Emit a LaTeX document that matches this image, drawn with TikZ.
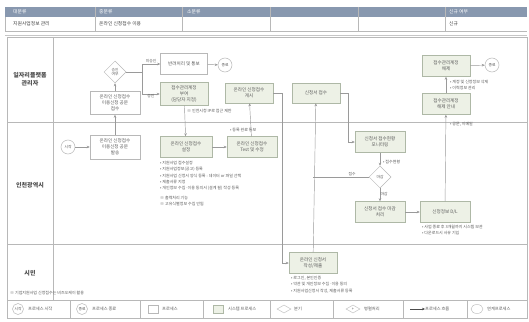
\documentclass[tikz,border=0pt]{standalone}
\usepackage{fontspec}
\setmainfont{Noto Sans CJK KR}
\usetikzlibrary{shapes.geometric,arrows.meta}
\definecolor{hdr}{HTML}{8898AF}
\definecolor{lgray}{HTML}{B8B8B8}
\definecolor{txt}{HTML}{5A5A5A}
\definecolor{gfill}{HTML}{EDF1E6}
\definecolor{gdraw}{HTML}{AEB8A6}
\definecolor{ln}{HTML}{9A9A9A}
\tikzset{
  proc/.style={draw=lgray, fill=white, minimum width=50pt, minimum height=21pt, align=center,
    font=\fontsize{4.6}{6}\selectfont, text=txt, inner sep=1pt, line width=0.5pt},
  sysp/.style={proc, fill=gfill, draw=gdraw},
  dec/.style={diamond, draw=lgray, fill=white, minimum width=22pt, minimum height=22pt, inner sep=0pt,
    align=center, font=\fontsize{3.8}{4.5}\selectfont, text=txt, line width=0.5pt},
  term/.style={circle, draw=lgray, fill=white, minimum size=14pt, inner sep=0pt,
    font=\fontsize{3.8}{4.5}\selectfont, text=txt, line width=0.5pt},
  flow/.style={draw=ln, line width=0.45pt, -{Stealth[length=3pt,width=2.6pt]}},
  plain/.style={draw=ln, line width=0.45pt},
  note/.style={font=\fontsize{4}{6.3}\selectfont, text=txt, align=left, inner sep=0pt},
  lbl/.style={font=\fontsize{3.8}{4.5}\selectfont, text=txt, inner sep=0.5pt},
  hd/.style={font=\fontsize{4.8}{6}\selectfont, text=white, anchor=west, inner sep=0pt},
  rw/.style={font=\fontsize{4.8}{6}\selectfont, text=black!75, anchor=west, inner sep=0pt},
  lane/.style={font=\bfseries\fontsize{6}{8}\selectfont, text=black!70, align=center},
  grid/.style={draw=lgray, line width=0.5pt},
  leg/.style={font=\fontsize{4.2}{5}\selectfont, text=txt, anchor=west, inner sep=0pt}
}
\begin{document}
\begin{tikzpicture}[x=1pt,y=-1pt]
\useasboundingbox (0,0) rectangle (529,321);
\fill[white] (0,0) rectangle (529,321);
% ---------- top table
\fill[hdr] (5,7) rectangle (527,17);
\draw[grid] (5,31) -- (527,31);
\foreach \xx in {95,182,270,358,445} \draw[grid] (\xx,7) -- (\xx,31);
\draw[grid] (5,17) -- (5,31);
\node[hd] (h1) at (13,12) {대분류};
\node[hd] (h2) at (99,12) {중분류};
\node[hd] (h3) at (187,12) {소분류};
\node[hd] (h6) at (449,12) {신규 여부};
\node[rw] (r1) at (13,24) {지원사업정보 관리};
\node[rw] (r2) at (99,24) {온라인 신청접수 이용};
\node[rw] (r6) at (449,24) {신규};
% ---------- lanes
\draw[draw=lgray!80, line width=1.6pt] (5,35.5) -- (527,35.5);
\draw[grid] (7,37) rectangle (527,300);
\draw[grid] (53,37) -- (53,300);
\draw[grid] (7,122) -- (527,122);
\draw[grid] (7,244) -- (527,244);
\node[lane] (L1) at (30,79) {일자리플랫폼\\관리자};
\node[lane] (L2) at (30,185) {인천광역시};
\node[lane] (L3) at (30,273) {시민};
% ---------- lane 1
\node[dec] (d1) at (115,72) {승인\\여부};
\node[proc, minimum height=23pt] (precv) at (115,103) {온라인 신청접수\\이용신청 공문\\접수};
\node[proc, minimum width=47pt] (prej) at (184,64) {반려처리 및 통보};
\node[term] (e1) at (225,65) {종료};
\node[sysp, minimum width=48pt, minimum height=23pt] (sacct) at (184,94) {접수관리계정\\부여\\(담당자 지정)};
\node[note, anchor=west] (n1) at (187,111) {※ 인천시청 IP로 접근 제한};
\node[sysp, minimum width=48pt, minimum height=20pt] (spost) at (249,93) {온라인 신청접수\\게시};
\node[sysp, minimum width=48pt, minimum height=20pt] (srecv) at (316,93) {신청서 접수};
\node[sysp, minimum width=48pt] (srel) at (446,66) {접수관리계정\\해제};
\node[term] (e2) at (492,65) {종료};
\node[note, anchor=north west] (n2) at (450,80) {• 계정 및 신청정보 삭제\\• 이력정보 관리};
\node[sysp, minimum width=48pt] (srn) at (446,104) {접수관리계정\\해제 안내};
\node[note, anchor=west] (n3) at (450,124.5) {• 공문, 이메일};
% ---------- lane 2
\node[term] (st) at (68,147) {시작};
\node[proc, minimum height=24pt] (psend) at (115,147) {온라인 신청접수\\이용신청 공문\\발송};
\node[sysp, minimum width=52pt] (sset) at (186,147) {온라인 신청접수\\설정};
\node[sysp] (stest) at (252,147) {온라인 신청접수\\Test 및 수정};
\node[note, anchor=west] (n4) at (230,130) {• 등록 완료 통보};
\node[note, anchor=north west] (n5) at (160,161) {• 지원사업 접수설정\\• 지원사업정보(공고) 등록\\• 지원사업 신청서 양식 등록 : 데이터 or 파일 선택\\• 제출서류 지정\\• 개인정보 수집·이용 동의서 (설계 필) 작성 등록\\[3.5pt]※ 출력처리 기능\\※ 고유식별정보 수집 안됨};
\node[sysp] (smon) at (380,142) {신청서 접수현황\\모니터링};
\node[note, anchor=west] (n6) at (383,162) {• 접수현황};
\node[dec] (d2) at (380,177) {마감};
\node[sysp] (pclose) at (380,212) {신청서 접수 마감\\처리};
\node[sysp] (sdl) at (445,212) {신청정보 D/L};
\node[note, anchor=north west] (n7) at (422,225) {• 사업 종료 후 3개월까지 시스템 보관\\• 다운로드시 사유 기입};
% ---------- lane 3
\node[sysp, minimum width=48pt] (sapp) at (313,263) {온라인 신청서\\작성/제출};
\node[note, anchor=north west] (n8) at (291,276) {• 로그인, 본인인증\\• 약관 및 개인정보 수집·이용 동의\\• 지원사업신청서 작성, 제출서류 등록};
\node[note, anchor=west] (n9) at (10,293) {※ 기업지원사업 신청접수는 비즈오케이 활용};
% ---------- connectors
\coordinate (j1) at (142,72);
\draw[flow] (st) -- (psend);
\draw[flow] (psend) -- (precv);
\draw[flow] (precv) -- (d1);
\draw[plain] (d1.east) -- (j1);
\draw[flow] (j1) |- node[lbl, pos=0.75, above] {미승인} (prej.west);
\draw[flow] (j1) |- node[lbl, pos=0.75, below] {승인} (sacct.west);
\draw[flow] (prej) -- (e1);
\draw[flow] (sacct) -- (sset);
\draw[flow] (sset) -- (stest);
\draw[flow] (stest) -- (spost);
\draw[flow] (spost.east) -- ++(9,0) |- (sapp.west);
\draw[flow] (sapp) -- (srecv);
\draw[plain] (d2.west) -- node[lbl, above, pos=0.3] {접수} (sapp.north |- d2.west);
\draw[flow] (srecv.east) -- ++(8,0) |- (smon.west);
\draw[flow] (smon) -- (d2);
\draw[flow] (d2) -- node[lbl, right, pos=0.45] {마감} (pclose);
\draw[flow] (pclose) -- (sdl);
\draw[flow] (sdl) -- (srn);
\draw[flow] (srn) -- (srel);
\draw[flow] (srel) -- (e2);
% ---------- legend
\draw[grid] (7,300) rectangle (527,318);
\foreach \xx in {70,140,203,270,333,403,467} \draw[grid] (\xx,300) -- (\xx,318);
\node[term, minimum size=11pt] (lg1) at (18,309) {시작};
\node[leg] (lt1) at (28,309) {프로세스 시작};
\node[term, minimum size=11pt] (lg2) at (82,309) {종료};
\node[leg] (lt2) at (92,309) {프로세스 종료};
\node[draw=lgray, minimum width=10pt, minimum height=8pt, inner sep=0pt] (lg3) at (153,309) {};
\node[leg] (lt3) at (162,309) {프로세스};
\node[draw=gdraw, fill=gfill, minimum width=10pt, minimum height=8pt, inner sep=0pt] (lg4) at (218,309) {};
\node[leg] (lt4) at (228,309) {시스템 프로세스};
\node[diamond, draw=lgray, minimum width=14pt, minimum height=8pt, inner sep=0pt] (lg5) at (284,309) {};
\node[leg] (lt5) at (294,309) {분기};
\node[diamond, draw=lgray, minimum width=14pt, minimum height=8pt, inner sep=0pt, font=\fontsize{4}{4}\selectfont, text=txt] (lg6) at (353,309) {+};
\node[leg] (lt6) at (364,309) {병렬처리};
\coordinate (la) at (410,309);
\node[leg] (lt7) at (425,309) {프로세스 흐름};
\draw[flow, draw=black!70] (la) -- (lt7.west);
\node[ellipse, draw=lgray, minimum width=12pt, minimum height=9pt, inner sep=0pt] (lg8) at (477,309) {};
\node[leg] (lt8) at (487,309) {연계프로세스};
\end{tikzpicture}
\end{document}
